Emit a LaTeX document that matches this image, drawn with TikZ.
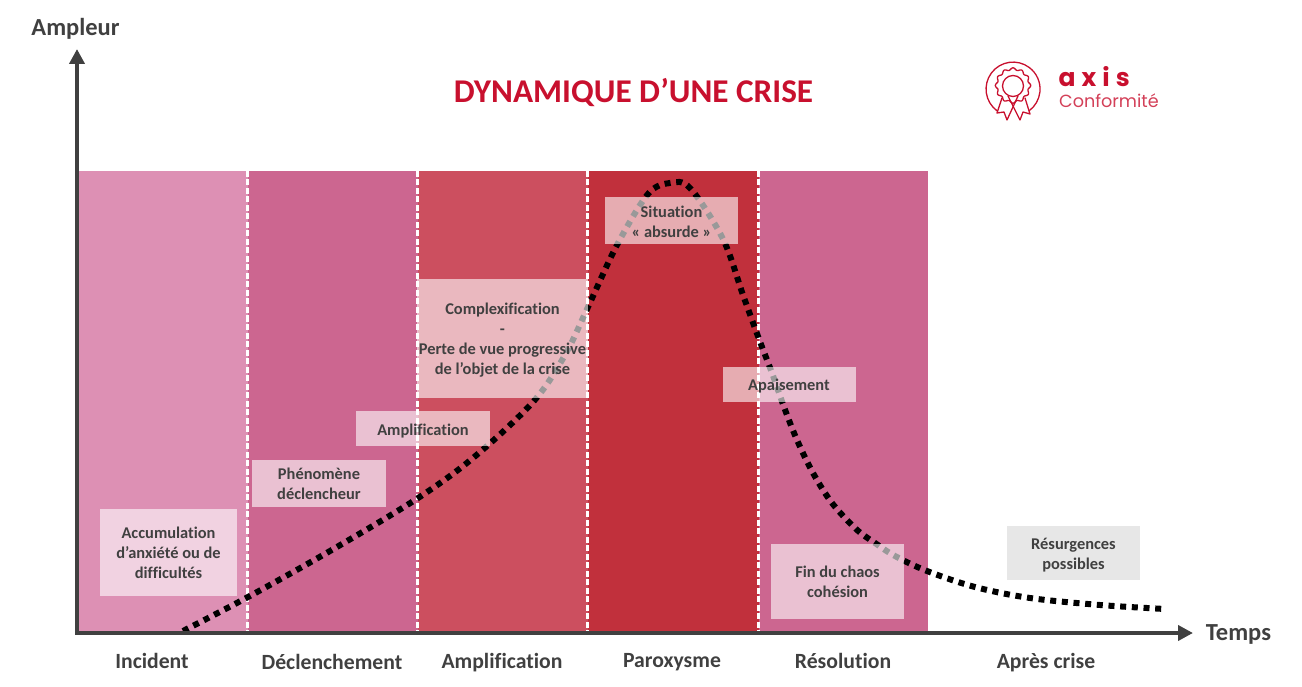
\documentclass[tikz,border=0pt]{standalone}
\usepackage{fontspec}
\setmainfont[Ligatures=NoCommon]{Carlito}
\newfontfamily\logofont{Poppins}
\usetikzlibrary{arrows.meta}
\definecolor{bandA}{HTML}{DD90B4}
\definecolor{bandB}{HTML}{CC6690}
\definecolor{bandC}{HTML}{CC4F5F}
\definecolor{bandD}{HTML}{C1303C}
\definecolor{ink}{HTML}{404040}
\definecolor{brand}{HTML}{C8102E}
\tikzset{
  band/.style={draw=none,inner sep=0pt,minimum height=461pt,anchor=north west},
  veil/.style={draw=none,fill=white,fill opacity=.6,inner sep=0pt},
  veiltext/.style={inner sep=0pt,align=center,text=ink,font=\fontsize{16.4}{20}\selectfont\bfseries},
  phase/.style={text=ink,font=\fontsize{21.7}{24}\selectfont\bfseries,inner sep=0pt},
  axislabel/.style={text=ink,font=\fontsize{24.5}{28}\selectfont\bfseries,inner sep=0pt},
  axisline/.style={draw=ink,line width=4pt,-{Triangle[length=15pt,width=15pt]}},
  sep/.style={draw=white,line width=2.4pt,dash pattern=on 6pt off 2.5pt},
  crisis/.style={draw=black,line width=6pt,dash pattern=on 6pt off 5.7pt},
  logoline/.style={draw=brand,line width=1.3pt,line join=round,line cap=round}
}
\begin{document}
\begin{tikzpicture}[x=1pt,y=-1pt]
\useasboundingbox (0,0) rectangle (1302,687);
% bands
\node[band,fill=bandA,minimum width=168.5pt] (b1) at (79,171) {};
\node[band,fill=bandB,minimum width=170pt] (b2) at (247.5,171) {};
\node[band,fill=bandC,minimum width=170pt] (b3) at (417.5,171) {};
\node[band,fill=bandD,minimum width=171pt] (b4) at (587.5,171) {};
\node[band,fill=bandB,minimum width=169.5pt] (b5) at (758.5,171) {};
% separators
\draw[sep] (b2.north west) -- (b2.south west);
\draw[sep] (b3.north west) -- (b3.south west);
\draw[sep] (b4.north west) -- (b4.south west);
\draw[sep] (b5.north west) -- (b5.south west);
\draw[draw=white,line width=.8pt,dash pattern=on 6pt off 2.5pt] (b5.north east) -- (b5.south east);
% curve
\draw[crisis] plot[smooth,tension=.55] coordinates {
 (183,631) (248,597) (330,551) (415,500) (473,458) (533,402) (565,355) (588,307) (617,245)
 (648,194) (670,183) (690,188) (723,239) (743,295) (759,339) (772,373) (784,407) (797,440) (813,473) (832,503)
 (856,529) (875,543) (895,556) (927,571) (975,587) (1030,598) (1100,605) (1165,609)};
% axes
\coordinate (o) at (77,633);
\coordinate (ytip) at (77,49);
\coordinate (xtip) at (1193,633);
\draw[axisline] (o) -- (ytip);
\draw[axisline] (75,633) -- (xtip);
% veiled boxes
\node[veil,minimum width=137pt,minimum height=87pt] (n1) at (168.5,552.5) {};
\node[veil,minimum width=134pt,minimum height=47pt] (n2) at (318.5,483.5) {};
\node[veil,minimum width=134pt,minimum height=35pt] (n3) at (423,428.5) {};
\node[veil,minimum width=171pt,minimum height=119pt] (n4) at (502.5,338.5) {};
\node[veil,minimum width=133pt,minimum height=47pt] (n5) at (671.5,220.5) {};
\node[veil,minimum width=133pt,minimum height=35pt] (n6) at (789,384) {};
\node[veil,minimum width=133pt,minimum height=75pt] (n7) at (837.5,581) {};
\node[fill=black!9.5,inner sep=0pt,minimum width=133pt,minimum height=54pt] (n8) at (1073.5,553) {};
\node[veiltext,yshift=-.7pt] (t1) at (n1) {Accumulation\\d’anxiété ou de\\difficultés};
\node[veiltext,xshift=.5pt] (t2) at (n2) {Phénomène\\déclencheur};
\node[veiltext,yshift=-2.3pt] (t3) at (n3) {Amplification};
\node[veiltext,yshift=-2pt] (t4) at (n4) {Complexification\\-\\Perte de vue progressive\\de l’objet de la crise};
\node[veiltext,yshift=-1pt] (t5) at (n5) {Situation\\« absurde »};
\node[veiltext,yshift=-2pt] (t6) at (n6) {Apaisement};
\node[veiltext,yshift=-1pt] (t7) at (n7) {Fin du chaos\\cohésion};
\node[veiltext,yshift=-2pt] (t8) at (n8) {Résurgences\\possibles};
% title and labels
\node[text=brand,font=\fontsize{33.2}{36}\selectfont\bfseries,inner sep=0pt] (title) at (633.5,92.5) {DYNAMIQUE D’UNE CRISE};
\node[axislabel] (ampleur) at (75.5,29) {Ampleur};
\node[axislabel] (temps) at (1238.5,634.5) {Temps};
\node[phase] (p1) at (152,661) {Incident};
\node[phase] (p2) at (332,662) {Déclenchement};
\node[phase] (p3) at (502,663) {Amplification};
\node[phase] (p4) at (672,662) {Paroxysme};
\node[phase] (p5) at (843,661) {Résolution};
\node[phase] (p6) at (1046,663) {Après crise};
% logo
\draw[logoline] (997,110.8) arc[start angle=126.5,end angle=413.5,radius=27];
\draw[logoline,smooth] plot[samples=145,domain=0:360] ({1013+(16.6+1.1*cos(12*\x))*cos(\x)},{85.5+(16.6+1.1*cos(12*\x))*sin(\x)});
\draw[logoline] (1013,86) circle[radius=10.5];
\draw[logoline] (1002,98) -- (997,113) -- (1004,112) -- (1007,120) -- (1018,96);
\draw[logoline] (1025,98) -- (1030,114) -- (1023,112) -- (1020,120) -- (1008,96);
\node[text=brand,font=\logofont\fontsize{25}{26}\selectfont,inner sep=0pt,anchor=west] (logoA) at (1058.5,77) {\textbf{a}\hspace{6pt}\textbf{x}\hspace{6pt}\textbf{i}\hspace{6pt}\textbf{s}};
\node[text=brand!80,font=\logofont\fontsize{17.6}{19}\selectfont,inner sep=0pt,anchor=west] (logoB) at (1059,100.5) {Conformité};
\end{tikzpicture}
\end{document}
